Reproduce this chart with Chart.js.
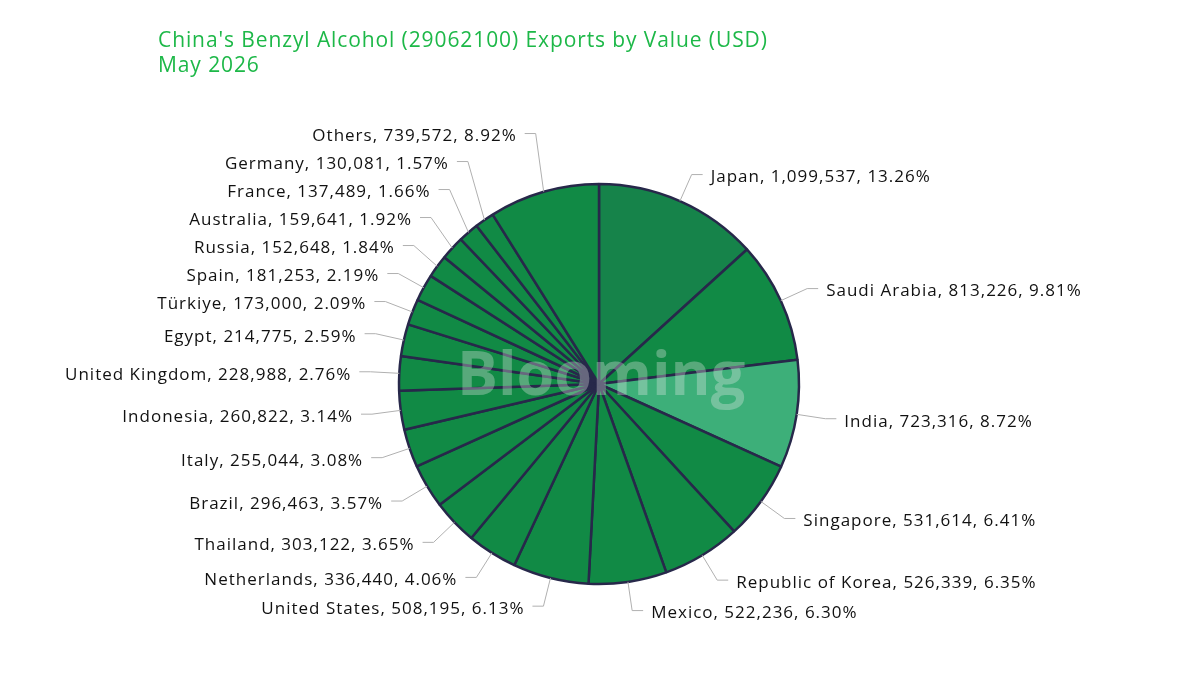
<!DOCTYPE html>
<html>
<head>
<meta charset="utf-8">
<script src="https://cdn.jsdelivr.net/npm/chart.js@4.4.1/dist/chart.umd.min.js"></script>
<style>
  html, body { margin: 0; padding: 0; background: #fff; }
  #wrap { width: 1200px; height: 675px; position: relative; }
</style>
</head>
<body>
<div id="wrap"><canvas id="myChart"></canvas></div>
<script>
const countries = ["Japan", "Saudi Arabia", "India", "Singapore", "Republic of Korea", "Mexico",
  "United States", "Netherlands", "Thailand", "Brazil", "Italy", "Indonesia", "United Kingdom",
  "Egypt", "Türkiye", "Spain", "Russia", "Australia", "France", "Germany", "Others"];
const values = [1099537, 813226, 723316, 531614, 526339, 522236, 508195, 336440, 303122, 296463,
  255044, 260822, 228988, 214775, 173000, 181253, 152648, 159641, 137489, 130081, 739572];
const shares = ["13.26%", "9.81%", "8.72%", "6.41%", "6.35%", "6.30%", "6.13%", "4.06%", "3.65%", "3.57%",
  "3.08%", "3.14%", "2.76%", "2.59%", "2.09%", "2.19%", "1.84%", "1.92%", "1.66%", "1.57%", "8.92%"];
const titleLines = ["China's Benzyl Alcohol (29062100) Exports by Value (USD)", "May 2026"];

const sliceColors = countries.map((c, i) => i === 0 ? "#16834a" : (i === 2 ? "#3daf79" : "#118a45"));
const FONT = "'Open Sans', Lato, sans-serif";

// labels with leader lines, spread so they don't overlap
const leaderLabels = {
  id: "leaderLabels",
  afterDatasetsDraw(chart) {
    const ctx = chart.ctx;
    const meta = chart.getDatasetMeta(0);
    const gap = 28;
    const items = meta.data.map((arc, i) => {
      const mid = (arc.startAngle + arc.endAngle) / 2;
      const r = arc.outerRadius;
      const re = r + 29;
      return {
        i,
        right: Math.cos(mid) >= 0,
        sx: arc.x + Math.cos(mid) * r,
        sy: arc.y + Math.sin(mid) * r,
        ex: arc.x + Math.cos(mid) * re,
        ey: arc.y + Math.sin(mid) * re,
        cy: arc.y,
      };
    });
    [true, false].forEach(side => {
      const list = items.filter(d => d.right === side).sort((a, b) => a.ey - b.ey);
      const upper = list.filter(d => d.ey < d.cy);
      const lower = list.filter(d => d.ey >= d.cy);
      for (let k = upper.length - 2; k >= 0; k--) {
        upper[k].ey = Math.min(upper[k].ey, upper[k + 1].ey - gap);
      }
      for (let k = 1; k < lower.length; k++) {
        lower[k].ey = Math.max(lower[k].ey, lower[k - 1].ey + gap);
      }
    });
    ctx.save();
    ctx.font = "17px " + FONT;
    ctx.letterSpacing = "1px";
    ctx.textBaseline = "middle";
    items.forEach(d => {
      const dir = d.right ? 1 : -1;
      const hx = d.ex + dir * 11;
      ctx.strokeStyle = "#b0b0b0";
      ctx.lineWidth = 1;
      ctx.beginPath();
      ctx.moveTo(d.sx, d.sy);
      ctx.lineTo(d.ex, d.ey);
      ctx.lineTo(hx, d.ey);
      ctx.stroke();
      ctx.fillStyle = "#111";
      ctx.textAlign = d.right ? "left" : "right";
      const txt = countries[d.i] + ", " + values[d.i].toLocaleString("en-US") + ", " + shares[d.i];
      ctx.fillText(txt, hx + dir * 8, d.ey + 3);
    });
    ctx.restore();
  }
};

const titleAndMark = {
  id: "titleAndMark",
  afterDatasetsDraw(chart) {
    const ctx = chart.ctx;
    const arc = chart.getDatasetMeta(0).data[0];
    ctx.save();
    ctx.font = "bold 61px " + FONT;
    ctx.fillStyle = "rgba(235,235,235,0.33)";
    ctx.textAlign = "center";
    ctx.textBaseline = "middle";
    ctx.fillText("Blooming", arc.x + 2, arc.y - 6);
    ctx.font = "21px " + FONT;
    ctx.letterSpacing = "0.9px";
    ctx.fillStyle = "#1db848";
    ctx.textAlign = "left";
    ctx.textBaseline = "alphabetic";
    ctx.fillText(titleLines[0], 158, 47);
    ctx.fillText(titleLines[1], 158, 72);
    ctx.restore();
  }
};

const config = {
  type: "pie",
  data: {
    labels: countries,
    datasets: [{
      data: values,
      backgroundColor: sliceColors,
      borderColor: "#27284a",
      borderWidth: 2.5,
    }],
  },
  options: {
    responsive: true,
    maintainAspectRatio: false,
    animation: false,
    radius: 200,
    layout: {
      padding: { top: 184, bottom: 91, left: 399, right: 401 },
    },
    plugins: {
      legend: { display: false },
      title: { display: false },
      tooltip: { enabled: false },
    },
  },
  plugins: [leaderLabels, titleAndMark],
};
const newChart = new Chart("myChart", config);
</script>
</body>
</html>
